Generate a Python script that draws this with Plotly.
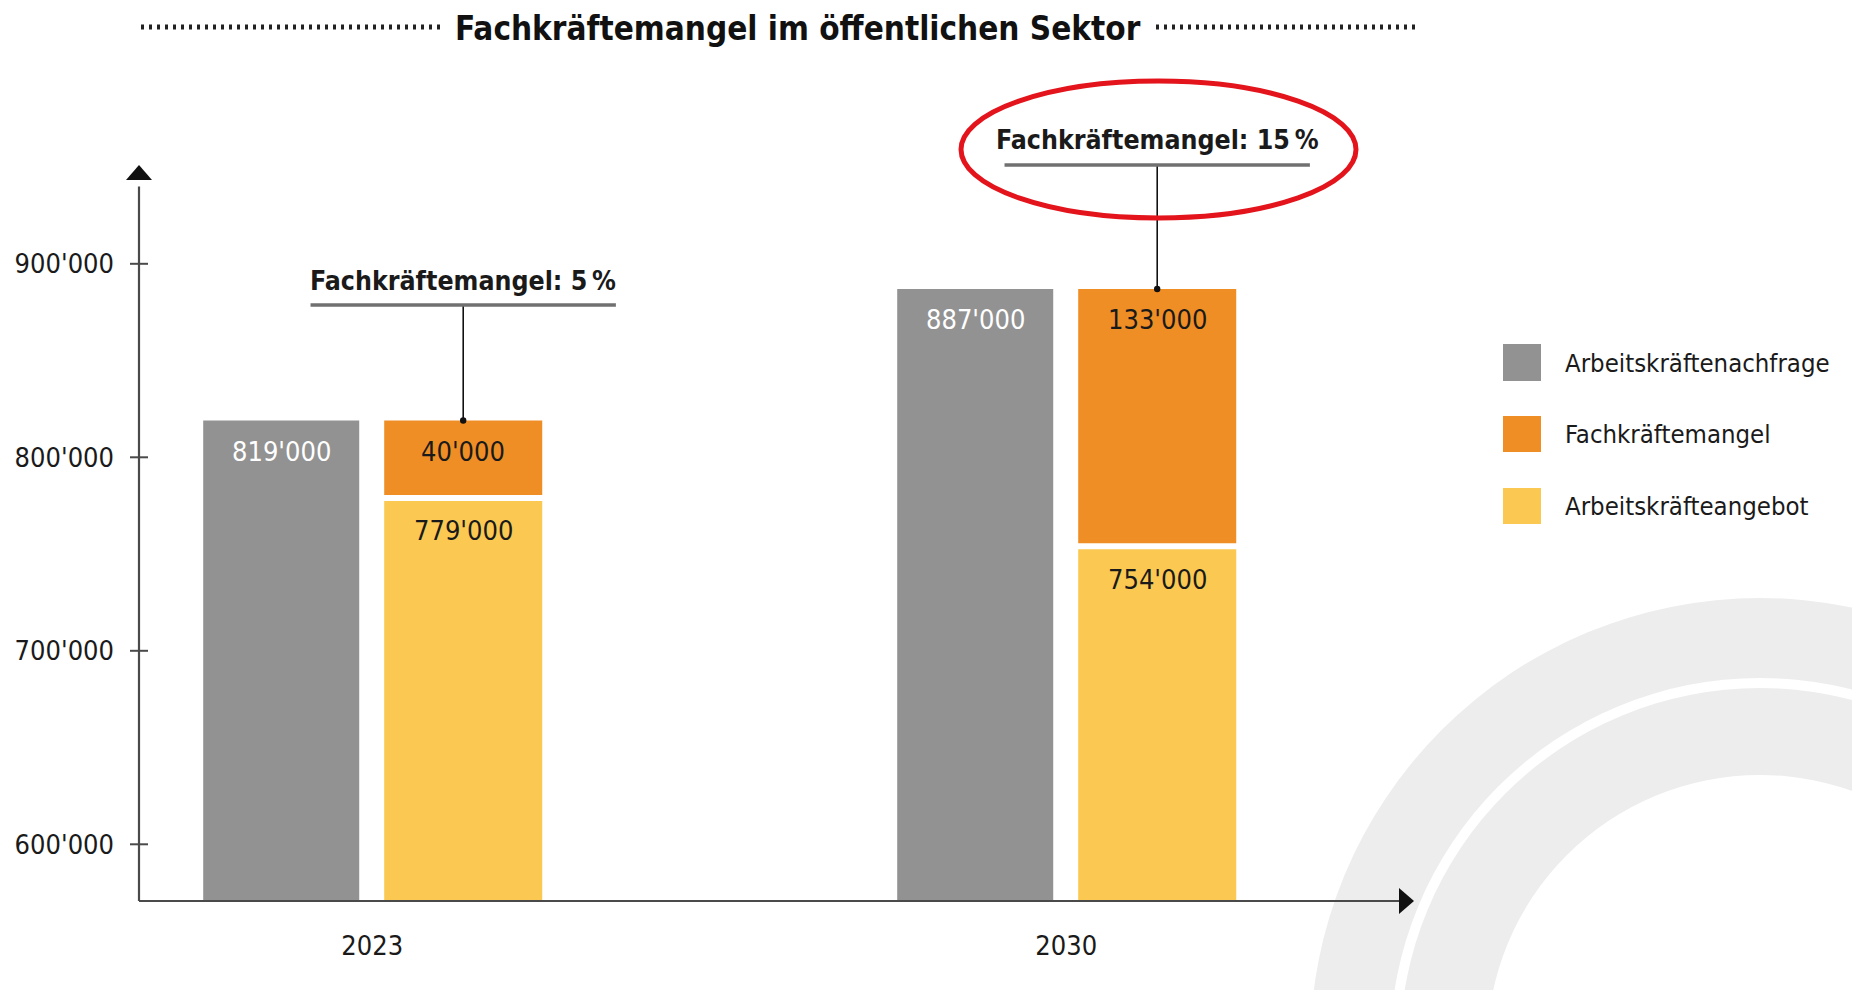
import plotly.graph_objects as go

# Daten
jahre = ["2023", "2030"]
nachfrage = [819000, 887000]   # Arbeitskräftenachfrage
mangel = [40000, 133000]       # Fachkräftemangel
angebot = [779000, 754000]     # Arbeitskräfteangebot
mangel_prozent = [5, 15]
y_ticks = [600000, 700000, 800000, 900000]
serien = ["Arbeitskräftenachfrage", "Fachkräftemangel", "Arbeitskräfteangebot"]
farben = ["#929292", "#F08E26", "#FBC952"]

FONT = "DejaVu Sans Condensed, Liberation Sans Narrow, sans-serif"
TXT = "#1a1a1a"


def fmt(v):
    return f"{v:,}".replace(",", "'")


# Plotbereich in Bildschirm-Pixeln (die Seite hat 8px Rand)
OFF = 8
L, R, T, B = 137, 1415, 60, 902
W, H = R - L, B - T


def px(x):
    return (x - L) / W


def py(y):
    return (B - y) / H


y_range = [570183, 1005325]
y_basis = 570700          # Höhe der x-Achse
x_range = [-0.3389, 1.5026]
x_achse = -0.336
callout_top = [878700, 951100]

off_a, w_a = -0.2435, 0.2248
off_b, w_b = 0.0173, 0.2277

fig = go.Figure()
fig.add_trace(go.Bar(x=jahre, y=nachfrage, name=serien[0], marker_color=farben[0],
                     marker_line_width=0, offset=off_a, width=w_a))
fig.add_trace(go.Bar(x=jahre, y=angebot, name=serien[2], marker_color=farben[2],
                     marker_line_width=0, offset=off_b, width=w_b))
fig.add_trace(go.Bar(x=jahre, y=mangel, base=angebot, name=serien[1], marker_color=farben[1],
                     marker_line_width=0, offset=off_b, width=w_b))

shapes = []
annotations = []

# Hintergrund-Bögen
cx, cy = 1760, 1048
for r, col in [(450, "#EDEDED"), (370, "white"), (360, "#EDEDED"), (273, "white")]:
    shapes.append(dict(type="circle", xref="paper", yref="paper", layer="below",
                       x0=px(cx - r), x1=px(cx + r), y0=py(cy + r), y1=py(cy - r),
                       fillcolor=col, line_width=0))

# Lücke zwischen Angebot und Mangel
for i in range(len(jahre)):
    xb = i + off_b + w_b / 2
    shapes.append(dict(type="line", xref="x", yref="y", x0=xb - 0.12, x1=xb + 0.12,
                       y0=angebot[i], y1=angebot[i], line=dict(color="white", width=6)))

# Achsen mit Pfeilen
shapes.append(dict(type="line", xref="paper", yref="y", x0=px(139), x1=px(139),
                   y0=y_basis, y1=940000, line=dict(color="#4a4a4a", width=2.2)))
shapes.append(dict(type="line", xref="x", yref="y", x0=x_achse, x1=1.48,
                   y0=y_basis, y1=y_basis, line=dict(color="#4a4a4a", width=2.2)))
shapes.append(dict(type="path", xref="paper", yref="paper", xsizemode="pixel", ysizemode="pixel",
                   xanchor=px(139), yanchor=py(165), path="M-13,-15L13,-15L0,0Z",
                   fillcolor="#111", line_width=0))
shapes.append(dict(type="path", xref="paper", yref="paper", xsizemode="pixel", ysizemode="pixel",
                   xanchor=px(1414), yanchor=py(901), path="M-15,-13L-15,13L0,0Z",
                   fillcolor="#111", line_width=0))
for t in y_ticks:
    shapes.append(dict(type="line", xref="paper", yref="y", x0=px(130), x1=px(148),
                       y0=t, y1=t, line=dict(color="#4a4a4a", width=2)))

# Wertelabels in den Balken
for i in range(len(jahre)):
    xa = i + off_a + w_a / 2
    xb = i + off_b + w_b / 2
    annotations.append(dict(x=xa, y=nachfrage[i], text=fmt(nachfrage[i]), showarrow=False,
                            yanchor="middle", yshift=-31, font=dict(size=27, color="white")))
    annotations.append(dict(x=xb, y=angebot[i] + mangel[i], text=fmt(mangel[i]), showarrow=False,
                            yanchor="middle", yshift=-31, font=dict(size=27, color=TXT)))
    annotations.append(dict(x=xb, y=angebot[i], text=fmt(angebot[i]), showarrow=False,
                            yanchor="middle", yshift=-33, font=dict(size=27, color=TXT)))

    # Callout Fachkräftemangel
    top = angebot[i] + mangel[i]
    shapes.append(dict(type="line", xref="x", yref="y", x0=xb, x1=xb, y0=top, y1=callout_top[i],
                       line=dict(color="#111", width=1.6)))
    shapes.append(dict(type="circle", xref="x", yref="y", xsizemode="pixel", ysizemode="pixel",
                       xanchor=xb, yanchor=top, x0=-3.2, x1=3.2, y0=-3.2, y1=3.2,
                       fillcolor="#111", line_width=0))
    shapes.append(dict(type="line", xref="x", yref="y", x0=xb - 0.22, x1=xb + 0.22,
                       y0=callout_top[i], y1=callout_top[i], line=dict(color="#707070", width=3.5)))
    annotations.append(dict(x=xb, y=callout_top[i], yanchor="middle", yshift=25, showarrow=False,
                            text=f"<b>Fachkräftemangel: {mangel_prozent[i]}\u2009%</b>",
                            font=dict(size=26.5, color=TXT)))

# rote Markierung
shapes.append(dict(type="circle", xref="paper", yref="paper", x0=px(961), x1=px(1356),
                   y0=py(218), y1=py(81), line=dict(color="#E3141B", width=5)))

# Titel mit gepunkteten Linien
annotations.append(dict(xref="paper", yref="paper", x=px(798), y=py(28.5), showarrow=False,
                        xanchor="center", yanchor="middle", borderpad=0,
                        text="<b>Fachkräftemangel im öffentlichen Sektor</b>",
                        font=dict(size=33, color="#111")))
for a, b in [(141, 442), (1156, 1417)]:
    shapes.append(dict(type="line", xref="paper", yref="paper", x0=px(a), x1=px(b),
                       y0=py(27), y1=py(27), line=dict(color="#222", width=5, dash="3px,5px")))

# Legende
leg_rows = [(344, 381), (416, 452), (488, 524)]
for k, (t0, t1) in enumerate(leg_rows):
    shapes.append(dict(type="rect", xref="paper", yref="paper", x0=px(1503), x1=px(1541),
                       y0=py(t1), y1=py(t0), fillcolor=farben[k], line_width=0))
    annotations.append(dict(xref="paper", yref="paper", x=px(1563), y=py((t0 + t1) / 2),
                            xanchor="left", yanchor="middle", showarrow=False, text=serien[k],
                            font=dict(size=25.5, color=TXT)))

fig.update_layout(
    template="none",
    width=1860, height=990,
    margin=dict(l=L - OFF, r=1860 - R + OFF, t=T - OFF, b=990 - B + OFF, pad=0),
    barmode="overlay",
    showlegend=False,
    paper_bgcolor="white",
    plot_bgcolor="rgba(0,0,0,0)",
    separators=".'",
    font=dict(family=FONT, color=TXT),
    xaxis=dict(type="category", range=x_range, showgrid=False, zeroline=False, showline=False,
               ticks="", tickfont=dict(size=27), ticklabelstandoff=25, automargin=False),
    yaxis=dict(range=y_range, tickvals=y_ticks, tickformat=",d", showgrid=False, zeroline=False,
               showline=False, ticks="", tickfont=dict(size=27), ticklabelstandoff=22,
               automargin=False),
    shapes=shapes,
    annotations=annotations,
)

fig.write_html("out.html")
